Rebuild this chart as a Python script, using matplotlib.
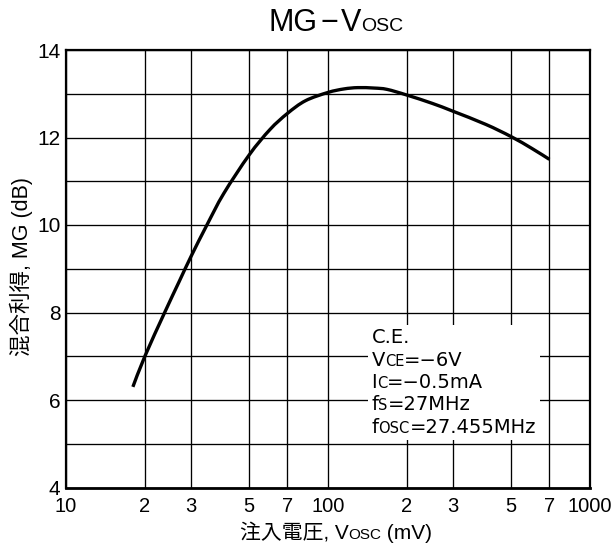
import matplotlib
matplotlib.use("Agg")
import numpy as np
import matplotlib.pyplot as plt
from matplotlib.path import Path
from matplotlib.patches import PathPatch
from matplotlib.offsetbox import TextArea, HPacker, VPacker, AnnotationBbox

# Mixing gain versus local-oscillator injection voltage
v_osc_mv = [18, 20, 23.8, 27, 30, 34.5, 40, 50, 60, 70, 82, 100, 115, 130,
            150, 168, 200, 250, 300, 400, 500, 600, 700]
mg_db = [6.3, 7.0, 8.0, 8.7, 9.28, 10.0, 10.72, 11.6, 12.18, 12.55, 12.84,
         13.03, 13.11, 13.14, 13.13, 13.1, 12.97, 12.78, 12.6, 12.3, 12.02,
         11.75, 11.5]

x_ticks = [10, 20, 30, 50, 70, 100, 200, 300, 500, 700, 1000]
x_tick_labels = ["10", "2", "3", "5", "7", "100", "2", "3", "5", "7", "1000"]
y_ticks = [4, 5, 6, 7, 8, 9, 10, 11, 12, 13, 14]
y_tick_labels = ["4", "", "6", "", "8", "", "10", "", "12", "", "14"]

title_parts = ["MG", "\u2212", "V"]
title_sub = "OSC"
ylabel_text = "混合利得, MG (dB)"
xlabel_parts = [("注入電圧, V", "main"), ("OSC", "sub"), (" (mV)", "main")]
cond_lines = [
    [("C.E.", "main")],
    [("V", "main"), ("CE", "sub"), ("=\u22126V", "main")],
    [("I", "main"), ("C", "sub"), ("=\u22120.5mA", "main")],
    [("f", "main"), ("S", "sub"), ("=27MHz", "main")],
    [("f", "main"), ("OSC", "sub"), ("=27.455MHz", "main")],
]

W, H = 613, 555
fig = plt.figure(figsize=(W / 100, H / 100), dpi=100)
fig.patch.set_facecolor("white")

left, right, top, bottom = 66, 590, 50, 487.5
ax = fig.add_axes([left / W, 1 - bottom / H, (right - left) / W, (bottom - top) / H])
ax.set_xscale("log")
ax.set_xlim(10, 1000)
ax.set_ylim(4, 14)


def smooth_path(xs, ys):
    """Catmull-Rom curve through the points, built in log-x space."""
    u = np.log10(np.asarray(xs, float))
    v = np.asarray(ys, float)
    pts = np.column_stack([u, v])
    ext = np.vstack([pts[0], pts, pts[-1]])
    verts = [pts[0]]
    codes = [Path.MOVETO]
    for i in range(1, len(ext) - 2):
        p0, p1, p2, p3 = ext[i - 1], ext[i], ext[i + 1], ext[i + 2]
        verts += [p1 + (p2 - p0) / 6.0, p2 - (p3 - p1) / 6.0, p2]
        codes += [Path.CURVE4] * 3
    verts = np.array(verts)
    verts[:, 0] = 10 ** verts[:, 0]
    return Path(verts, codes)


ax.add_patch(PathPatch(smooth_path(v_osc_mv, mg_db), facecolor="none",
                       edgecolor="black", lw=2.4, capstyle="butt", zorder=4))

tick_family = ["Liberation Sans", "DejaVu Sans"]
ax.xaxis.set_minor_locator(matplotlib.ticker.NullLocator())
ax.set_xticks(x_ticks)
ax.set_xticklabels(x_tick_labels, family=tick_family, fontsize=14.5)
ax.set_yticks(y_ticks)
ax.set_yticklabels(y_tick_labels, family=tick_family, fontsize=15)
ax.tick_params(axis="x", length=0, pad=6.5)
ax.tick_params(axis="y", length=0, pad=4)
ax.grid(True, color="black", lw=0.95)
for s in ax.spines.values():
    s.set_linewidth(1.6)
ax.spines["bottom"].set_linewidth(2.0)


def text_area(txt, size, family):
    return TextArea(txt, textprops=dict(fontsize=size, family=family, color="black"))


def rich_line(parts, main_size, sub_size, family):
    boxes = [text_area(txt, main_size if kind == "main" else sub_size, family)
             for txt, kind in parts]
    return HPacker(children=boxes, align="baseline", pad=0, sep=0)


# Title
latin = ["Liberation Sans", "DejaVu Sans"]
head = HPacker(children=[text_area(t, 22, latin) for t in title_parts],
               align="baseline", pad=0, sep=2)
title_box = HPacker(children=[head, text_area(title_sub, 14, latin)],
                    align="baseline", pad=0, sep=0)
fig.add_artist(AnnotationBbox(title_box, (336 / W, 1 - 23 / H),
                              xycoords="figure fraction", box_alignment=(0.5, 0.5),
                              frameon=False, pad=0))

# Axis labels
cjk_family = ["Liberation Sans", "Noto Sans CJK JP", "DejaVu Sans"]
fig.text(21 / W, 1 - 267 / H, ylabel_text, rotation=90, ha="center", va="center",
         fontsize=15.5, family=cjk_family)
xlabel_box = rich_line(xlabel_parts, 15, 11, cjk_family)
fig.add_artist(AnnotationBbox(xlabel_box, (336 / W, 1 - 533 / H),
                              xycoords="figure fraction", box_alignment=(0.5, 0.5),
                              frameon=False, pad=0))

# Measurement conditions
cond_box = VPacker(children=[rich_line(p, 14, 10.5, ["DejaVu Sans"]) for p in cond_lines],
                   align="left", pad=2.5, sep=2.4)
ab = AnnotationBbox(cond_box, ((368 - left) / (right - left), (bottom - 325) / (bottom - top)),
                    xycoords="axes fraction", box_alignment=(0, 1),
                    frameon=True, pad=0,
                    bboxprops=dict(facecolor="white", edgecolor="none"))
ab.set_zorder(5)
ax.add_artist(ab)

fig.savefig("out.png", dpi=100, facecolor="white")
